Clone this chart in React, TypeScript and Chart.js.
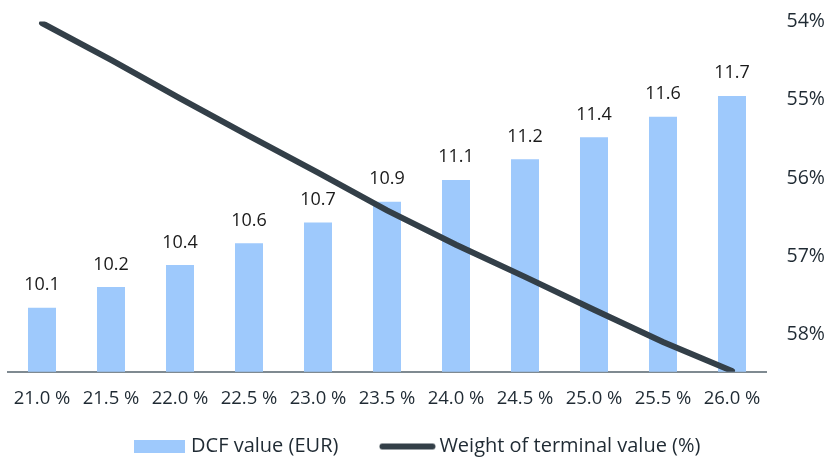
import React, { useEffect, useRef } from 'react';
import { Chart, registerables } from 'chart.js';

Chart.register(...registerables);

const categories = ['21.0 %', '21.5 %', '22.0 %', '22.5 %', '23.0 %', '23.5 %', '24.0 %', '24.5 %', '25.0 %', '25.5 %', '26.0 %'];
const dcfValues = [10.08, 10.24, 10.41, 10.58, 10.74, 10.9, 11.07, 11.23, 11.4, 11.56, 11.72];
const terminalWeights = [54.02, 54.49, 54.98, 55.46, 55.93, 56.41, 56.85, 57.26, 57.68, 58.09, 58.46];
const weightTicks = [54, 55, 56, 57, 58];
const seriesNames = ['DCF value (EUR)', 'Weight of terminal value (%)'];

const FONT = '"Open Sans"';
const BAR_COLOR = '#9ec9fc';
const LINE_COLOR = '#333f48';
const TEXT_COLOR = '#1f2a33';
const LEGEND_FONT_SIZE = 20;
const LEGEND_PADDING = 47;

const barLabelPlugin = {
  id: 'barLabels',
  afterDatasetsDraw(chart: any) {
    const meta = chart.getDatasetMeta(0);
    const ctx = chart.ctx;
    ctx.save();
    ctx.font = `18px ${FONT}`;
    ctx.fillStyle = '#1a1a1a';
    ctx.textAlign = 'center';
    ctx.textBaseline = 'alphabetic';
    meta.data.forEach((el: any, i: number) => {
      ctx.fillText(dcfValues[i].toFixed(1), el.x, el.y - 17.5);
    });
    ctx.restore();
  },
};

const legendShiftPlugin = {
  id: 'legendShift',
  afterLayout(chart: any) {
    const l = chart.legend;
    if (l) {
      l.top = 446.5 - LEGEND_PADDING - LEGEND_FONT_SIZE / 2;
      l.bottom = chart.height;
    }
  },
};

function makeBoxIcon(): HTMLCanvasElement {
  const c = document.createElement('canvas');
  c.width = 51;
  c.height = 13;
  const g = c.getContext('2d')!;
  g.fillStyle = BAR_COLOR;
  g.fillRect(0, 0, 51, 13);
  return c;
}

function makeLineIcon(): HTMLCanvasElement {
  const c = document.createElement('canvas');
  c.width = 57;
  c.height = 8;
  const g = c.getContext('2d')!;
  g.strokeStyle = LINE_COLOR;
  g.lineWidth = 6;
  g.lineCap = 'round';
  g.beginPath();
  g.moveTo(3.5, 4);
  g.lineTo(53.5, 4);
  g.stroke();
  return c;
}

export default function App() {
  const canvasRef = useRef<HTMLCanvasElement | null>(null);

  useEffect(() => {
    if (!canvasRef.current) return;
    const boxIcon = makeBoxIcon();
    const lineIcon = makeLineIcon();
    const chart = new Chart(canvasRef.current, {
      type: 'bar',
      data: {
        labels: categories,
        datasets: [
          {
            type: 'bar',
            label: seriesNames[0],
            data: dcfValues,
            backgroundColor: BAR_COLOR,
            borderWidth: 0,
            barPercentage: 0.406,
            categoryPercentage: 1,
            yAxisID: 'y',
            order: 1,
          },
          {
            type: 'line',
            label: seriesNames[1],
            data: terminalWeights,
            borderColor: LINE_COLOR,
            backgroundColor: LINE_COLOR,
            borderWidth: 6,
            borderCapStyle: 'round',
            pointRadius: 0,
            pointHoverRadius: 0,
            tension: 0,
            yAxisID: 'y1',
            order: 0,
          } as any,
        ],
      },
      options: {
        animation: false,
        responsive: true,
        maintainAspectRatio: false,
        layout: { padding: { left: 7.5, top: 21.5, right: 0, bottom: 0 } },
        scales: {
          x: {
            grid: { display: false, drawTicks: false },
            border: { display: true, color: '#7f8a91', width: 2 },
            ticks: {
              color: TEXT_COLOR,
              font: { family: FONT, size: 18.5 },
              padding: 16,
              maxRotation: 0,
              autoSkip: false,
            },
            afterFit: (scale: any) => {
              scale.height = 38;
              scale.paddingLeft = 0;
              scale.paddingRight = 0;
            },
          },
          y: {
            display: false,
            min: 9.584,
            max: 12.297,
          },
          y1: {
            position: 'right',
            reverse: true,
            min: 54,
            max: 58.47,
            grid: { display: false, drawTicks: false },
            border: { display: false },
            afterBuildTicks: (scale: any) => {
              scale.ticks = weightTicks.map((v) => ({ value: v }));
            },
            ticks: {
              color: TEXT_COLOR,
              font: { family: FONT, size: 19.5 },
              padding: 20,
              callback: (v: any) => `${v}%`,
            },
            afterFit: (scale: any) => {
              scale.width = 63.5;
              scale.paddingTop = 0;
              scale.paddingBottom = 0;
            },
          },
        },
        plugins: {
          tooltip: { enabled: false },
          legend: {
            display: true,
            position: 'bottom',
            maxHeight: 48.3,
            labels: {
              usePointStyle: true,
              pointStyleWidth: 44,
              padding: LEGEND_PADDING,
              color: TEXT_COLOR,
              font: { family: FONT, size: LEGEND_FONT_SIZE },
              generateLabels: () => [
                {
                  text: seriesNames[0],
                  fillStyle: BAR_COLOR,
                  strokeStyle: BAR_COLOR,
                  lineWidth: 0,
                  pointStyle: boxIcon,
                  datasetIndex: 0,
                  hidden: false,
                  fontColor: TEXT_COLOR,
                } as any,
                {
                  text: seriesNames[1],
                  fillStyle: LINE_COLOR,
                  strokeStyle: LINE_COLOR,
                  lineWidth: 0,
                  pointStyle: lineIcon,
                  datasetIndex: 1,
                  hidden: false,
                  fontColor: TEXT_COLOR,
                } as any,
              ],
            },
          },
        },
      },
      plugins: [barLabelPlugin, legendShiftPlugin],
    });
    return () => chart.destroy();
  }, []);

  return (
    <div style={{ position: 'fixed', left: 0, top: 0, width: 830, height: 458, background: '#ffffff' }}>
      <canvas ref={canvasRef} />
    </div>
  );
}
